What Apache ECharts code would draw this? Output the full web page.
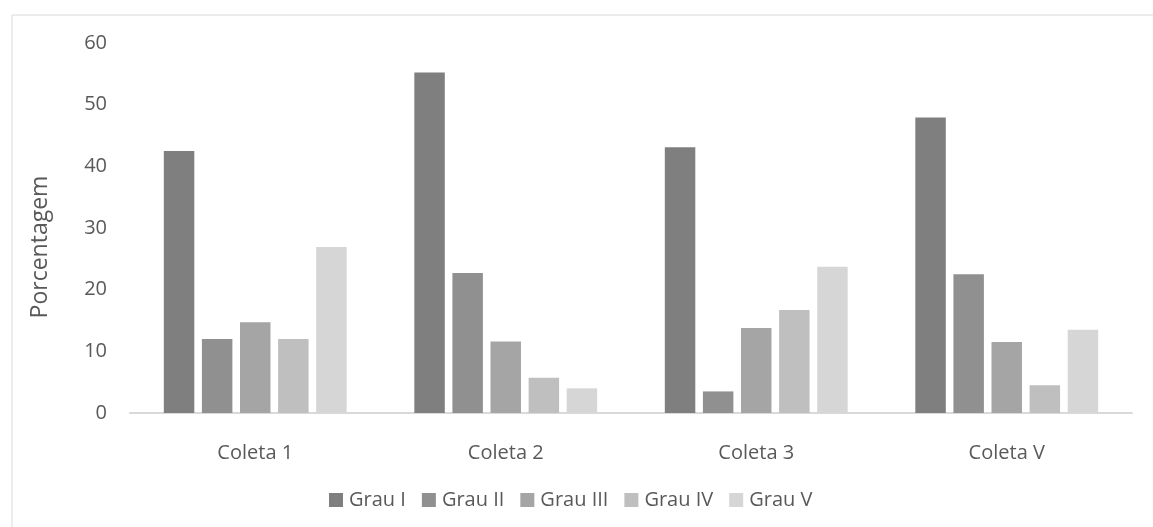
<!DOCTYPE html>
<html>
<head>
<meta charset="utf-8">
<script src="https://cdn.jsdelivr.net/npm/echarts@6/dist/echarts.min.js"></script>
<style>
  html, body { margin: 0; padding: 0; background: #ffffff; }
  #chart { width: 1153px; height: 527px; }
</style>
</head>
<body>
<div id="chart"></div>
<script>
// Categories (collection rounds) and grade series, in percent
const categories = ['Coleta 1', 'Coleta 2', 'Coleta 3', 'Coleta V'];
const seriesNames = ['Grau I', 'Grau II', 'Grau III', 'Grau IV', 'Grau V'];
const grauI   = [42.5, 55.2, 43.1, 47.9];
const grauII  = [12.0, 22.7, 3.5, 22.5];
const grauIII = [14.7, 11.6, 13.8, 11.5];
const grauIV  = [12.0, 5.7, 16.7, 4.5];
const grauV   = [26.9, 4.0, 23.7, 13.5];
const yTicks = [0, 10, 20, 30, 40, 50, 60];

const seriesValues = [grauI, grauII, grauIII, grauIV, grauV];
const colors = ['#7f7f7f', '#909090', '#a5a5a5', '#bfbfbf', '#d6d6d6'];
const textColor = '#595959';
const fontFamily = '"Open Sans", "Noto Sans", sans-serif';

const chart = echarts.init(document.getElementById('chart'), null, { renderer: 'canvas' });

chart.setOption({
  animation: false,
  backgroundColor: '#ffffff',
  textStyle: { fontFamily: fontFamily },
  graphic: [
    {
      // chart frame
      type: 'rect',
      left: 9.5, top: 12.5,
      shape: { x: 0, y: 0, width: 1160, height: 530 },
      style: { fill: 'none', stroke: '#d9d9d9', lineWidth: 1 },
      silent: true
    },
    {
      // value axis title
      type: 'text',
      x: 40, y: 247,
      rotation: Math.PI / 2,
      style: {
        text: 'Porcentagem',
        fill: textColor,
        font: '23px ' + fontFamily,
        textAlign: 'center',
        textVerticalAlign: 'middle'
      }
    }
  ],
  legend: {
    data: seriesNames,
    left: 329, top: 490,
    padding: 0,
    itemWidth: 14, itemHeight: 14,
    itemGap: 16,
    icon: 'rect',
    textStyle: { color: textColor, fontSize: 20, fontFamily: fontFamily, padding: [0, 0, 0, 1] }
  },
  grid: { left: 130, right: 21, top: 43, bottom: 114, containLabel: false },
  xAxis: {
    type: 'category',
    data: categories,
    axisLine: { lineStyle: { color: '#d9d9d9', width: 2 } },
    axisTick: { show: false },
    axisLabel: { color: textColor, fontSize: 20, margin: 30 }
  },
  yAxis: {
    type: 'value',
    min: yTicks[0], max: yTicks[yTicks.length - 1], interval: 10,
    splitLine: { show: false },
    axisLine: { show: false },
    axisTick: { show: false },
    axisLabel: { color: textColor, fontSize: 20, margin: 23 }
  },
  series: seriesNames.map((name, i) => ({
    name: name,
    type: 'bar',
    data: seriesValues[i],
    barGap: '25%',
    barCategoryGap: '27%',
    itemStyle: { color: colors[i] }
  }))
});
</script>
</body>
</html>
